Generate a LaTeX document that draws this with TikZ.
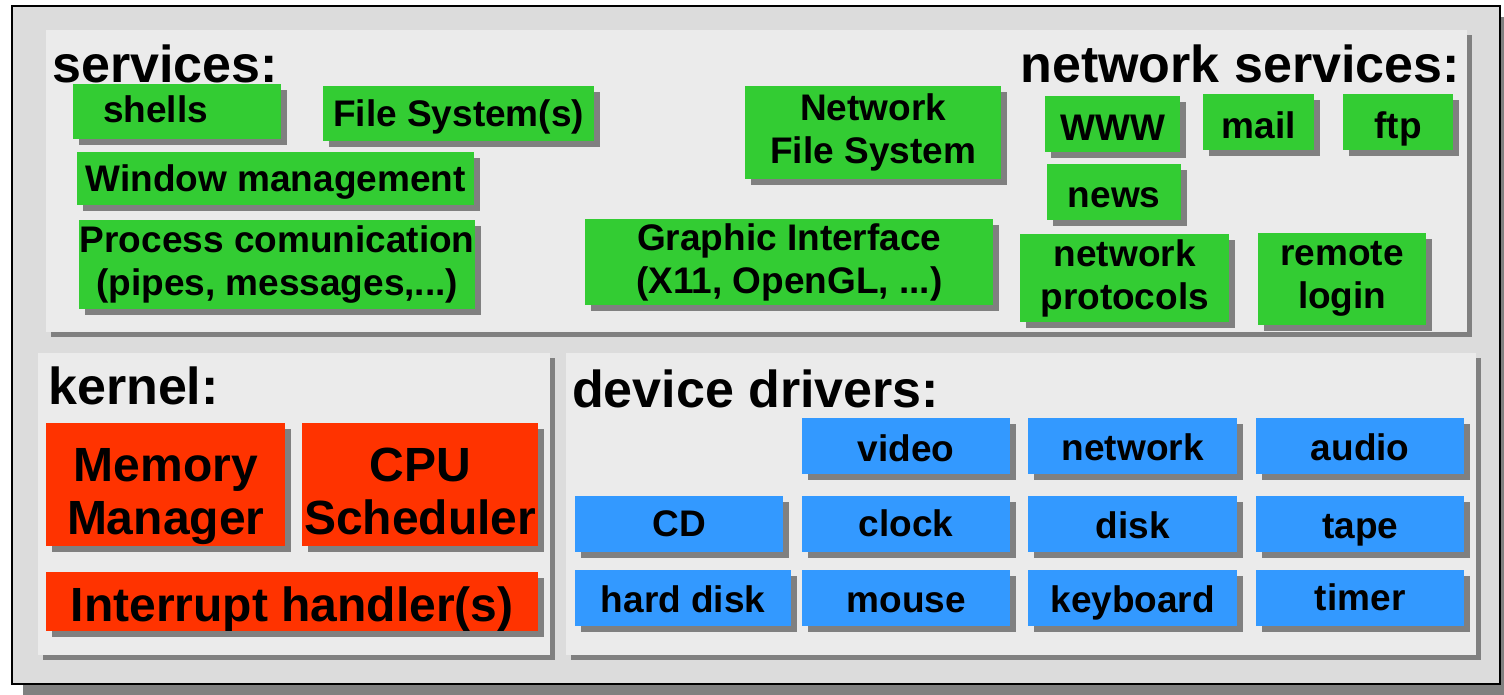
\documentclass[tikz,border=0pt]{standalone}
\usepackage{fontspec}
\setmainfont{Liberation Sans}
\usetikzlibrary{shadows}

\definecolor{framegray}{HTML}{DCDCDC}
\definecolor{panelgray}{HTML}{EBEBEB}
\definecolor{shade}{HTML}{808080}
\definecolor{srvgreen}{HTML}{33CC33}
\definecolor{krnred}{HTML}{FF3300}
\definecolor{drvblue}{HTML}{3399FF}

% two centred lines, first baseline a little above the node centre
\newcommand{\krnlines}[2]{\raisebox{3pt}[0pt][0pt]{\begin{tabular}[t]{@{}c@{}}#1\\#2\end{tabular}}}

\tikzset{
  hardshadow/.style={drop shadow={shadow xshift=#1, shadow yshift=-#1, fill=shade, opacity=1}},
  panelbox/.style={fill=panelgray, hardshadow=5pt},
  wh/.style 2 args={minimum width=#1pt, minimum height=#2pt},
  bl/.style={text height=#1, text depth=0pt},
  unit/.style={anchor=north west, inner sep=0pt, align=center, hardshadow=6pt,
    font=\bfseries\fontsize{37}{43}\selectfont},
  srv/.style={unit, fill=srvgreen},
  krn/.style={unit, fill=krnred, font=\bfseries\fontsize{48}{53}\selectfont},
  drv/.style={unit, fill=drvblue, bl=28pt},
  title/.style={anchor=base west, inner sep=0pt, font=\bfseries\fontsize{52}{60}\selectfont},
}

\begin{document}
\begin{tikzpicture}[x=1pt,y=-1pt]
\useasboundingbox (0,0) rectangle (1504,694);

% frame and the three panels
\draw[fill=framegray, line width=1.5pt, hardshadow=11pt] (12,6) rectangle (1500,684);
\path[panelbox] (46,30) rectangle (1467,332);
\path[panelbox] (38,353) rectangle (550,655);
\path[panelbox] (566,353) rectangle (1476,655);

% services
\node[title] (srvtitle) at (52,82) {services:};
\node[title, anchor=base east] (nettitle) at (1460,82) {network services:};
\node[srv, text width=148pt, inner xsep=30pt, align=left, minimum height=55pt, bl=21pt] (shells) at (73,84) {shells};
\node[srv, wh={271}{55}, bl=25pt] (fs) at (323,86) {File System(s)};
\node[srv, wh={397}{53}, bl=25pt] (win) at (77,152) {Window management};
\node[srv, wh={396}{89}] (ipc) at (79,220) {Process comunication\\(pipes, messages,...)};
\node[srv, wh={256}{93}] (nfs) at (745,86) {Network\\File System};
\node[srv, wh={408}{86}] (gui) at (585,219) {Graphic Interface\\(X11, OpenGL, ...)};
\node[srv, wh={135}{56}, bl=32pt] (www) at (1045,96) {WWW};
\node[srv, wh={111}{56}, bl=32pt] (mail) at (1203,94) {mail};
\node[srv, wh={110}{56}, bl=32pt] (ftp) at (1343,94) {ftp};
\node[srv, wh={134}{56}, bl=31pt] (news) at (1047,164) {news};
\node[srv, wh={209}{88}] (proto) at (1020,234) {network\\protocols};
\node[srv, wh={168}{92}] (rlogin) at (1258,233) {remote\\login};

% kernel
\node[title] (krntitle) at (48,404) {kernel:};
\node[krn, wh={239}{123}] (mem) at (46,423) {\krnlines{Memory}{Manager}};
\node[krn, wh={236}{123}] (cpu) at (302,423) {\krnlines{CPU}{Scheduler}};
\node[krn, wh={492}{59}, bl=39pt] (irq) at (46,572) {Interrupt handler(s)};

% device drivers
\node[title] (drvtitle) at (572,407) {device drivers:};
\node[drv, wh={208}{56}, bl=31pt] (video) at (802,418) {video};
\node[drv, wh={209}{56}] (network) at (1028,418) {network};
\node[drv, wh={208}{56}] (audio) at (1256,418) {audio};
\node[drv, wh={208}{56}, bl=25pt] (cd) at (575,496) {CD};
\node[drv, wh={208}{56}, bl=25pt] (clock) at (802,496) {clock};
\node[drv, wh={209}{56}] (disk) at (1028,496) {disk};
\node[drv, wh={208}{56}] (tape) at (1256,496) {tape};
\node[drv, wh={216}{56}] (hdd) at (575,570) {hard disk};
\node[drv, wh={208}{56}] (mouse) at (802,570) {mouse};
\node[drv, wh={209}{56}] (keyb) at (1028,570) {keyboard};
\node[drv, wh={208}{56}, bl=25pt] (timer) at (1256,570) {timer};
\end{tikzpicture}
\end{document}
